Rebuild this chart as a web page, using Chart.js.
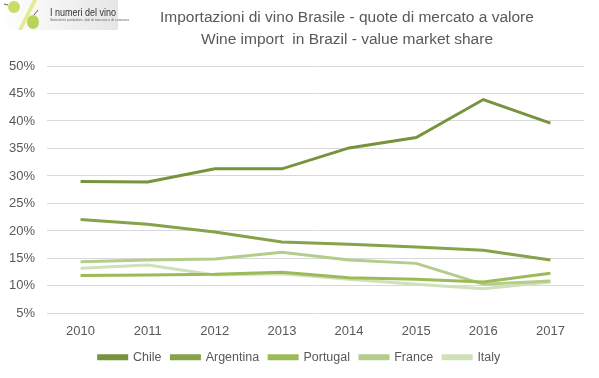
<!DOCTYPE html>
<html>
<head>
<meta charset="utf-8">
<script src="https://cdn.jsdelivr.net/npm/chart.js@4.4.1/dist/chart.umd.min.js"></script>
<style>
  html, body { margin: 0; padding: 0; background: #ffffff; }
  #wrap { width: 599px; height: 378px; position: relative; }
</style>
</head>
<body>
<div id="wrap"><canvas id="c" width="599" height="378"></canvas></div>
<script>
const years = ['2010', '2011', '2012', '2013', '2014', '2015', '2016', '2017'];
const chile = [29.0, 28.9, 31.3, 31.3, 35.1, 37.0, 43.9, 39.6];
const argentina = [22.1, 21.2, 19.8, 18.0, 17.6, 17.1, 16.5, 14.7];
const portugal = [11.9, 12.0, 12.1, 12.5, 11.5, 11.2, 10.7, 12.3];
const france = [14.4, 14.7, 14.9, 16.1, 14.7, 14.1, 10.3, 10.9];
const italy = [13.2, 13.8, 12.0, 12.2, 11.2, 10.3, 9.5, 10.7];
const seriesNames = ['Chile', 'Argentina', 'Portugal', 'France', 'Italy'];
const titleLine1 = 'Importazioni di vino Brasile - quote di mercato a valore';
const titleLine2 = 'Wine import  in Brazil - value market share';
const logoTitle = 'I numeri del vino';
const logoSub = 'Statistiche produttive, dati di mercato e di consumo';

const colors = ['#77933c', '#86a24a', '#9bbb59', '#b4cc8c', '#d0e0b9'];
const seriesData = [chile, argentina, portugal, france, italy];

const headerPlugin = {
  id: 'header',
  beforeInit(chart) {
    const lg = chart.legend;
    if (lg) {
      const orig = lg.fit;
      lg.fit = function () { orig.call(this); this.height = 30; };
    }
  },
  afterLayout(chart) {
    const lg = chart.legend;
    if (lg) {
      lg.left = 0;
      lg.right = chart.width;
      lg.width = chart.width;
    }
  },
  afterDraw(chart) {
    const ctx = chart.ctx;
    ctx.save();
    // logo background
    const g = ctx.createLinearGradient(0, 0, 118, 0);
    g.addColorStop(0, '#ffffff');
    g.addColorStop(1, '#e6e6e6');
    ctx.fillStyle = g;
    ctx.fillRect(0, 0, 118, 30);
    // grapes
    ctx.fillStyle = '#c8dc6a';
    ctx.beginPath(); ctx.arc(14, 7, 6, 0, Math.PI * 2); ctx.fill();
    ctx.fillStyle = '#e3ec8a';
    ctx.beginPath();
    ctx.moveTo(33, 0); ctx.lineTo(37, 0); ctx.lineTo(22, 30); ctx.lineTo(18, 30);
    ctx.closePath(); ctx.fill();
    ctx.fillStyle = '#b9d25a';
    ctx.beginPath(); ctx.ellipse(33, 22, 6, 7, 0, 0, Math.PI * 2); ctx.fill();
    ctx.strokeStyle = '#7a5a2a'; ctx.lineWidth = 1;
    ctx.beginPath(); ctx.moveTo(34, 15); ctx.lineTo(38, 10); ctx.stroke();
    ctx.beginPath(); ctx.moveTo(8, 5); ctx.lineTo(4, 4); ctx.stroke();
    // logo text
    ctx.fillStyle = '#333333';
    ctx.font = '11px "Liberation Sans", Arial, sans-serif';
    ctx.textBaseline = 'middle';
    ctx.textAlign = 'left';
    const tw = ctx.measureText(logoTitle).width;
    ctx.save();
    ctx.translate(50, 13);
    ctx.scale(66 / tw, 1);
    ctx.fillText(logoTitle, 0, 0);
    ctx.restore();
    ctx.font = '3.5px "Liberation Sans", Arial, sans-serif';
    ctx.fillStyle = '#666666';
    ctx.fillText(logoSub, 50, 20);
    // title
    ctx.fillStyle = '#595959';
    ctx.font = '15.5px "Liberation Sans", Arial, sans-serif';
    ctx.textAlign = 'left';
    ctx.fillText(titleLine1, 160, 18);
    ctx.fillText(titleLine2, 201, 40);
    ctx.restore();
  }
};

new Chart(document.getElementById('c'), {
  type: 'line',
  data: {
    labels: years,
    datasets: seriesNames.map((n, i) => ({
      label: n,
      data: seriesData[i],
      borderColor: colors[i],
      backgroundColor: colors[i],
      borderWidth: 3,
      pointRadius: 0,
      tension: 0,
      fill: false
    }))
  },
  options: {
    responsive: false,
    devicePixelRatio: 1,
    animation: false,
    layout: { padding: { top: 66, right: 15, left: 0, bottom: 7 } },
    plugins: {
      tooltip: { enabled: false },
      title: { display: false },
      legend: {
        position: 'bottom',
        labels: {
          boxWidth: 28,
          boxHeight: 3,
          padding: 10,
          color: '#595959',
          font: { family: '"Liberation Sans", Arial, sans-serif', size: 12.5 }
        }
      }
    },
    scales: {
      x: {
        offset: true,
        grid: { display: false },
        border: { display: false },
        ticks: {
          color: '#595959',
          padding: 2,
          font: { family: '"Liberation Sans", Arial, sans-serif', size: 13 }
        }
      },
      y: {
        min: 5,
        max: 50,
        afterFit(scale) { scale.width = 47; },
        grid: { color: '#d9d9d9', lineWidth: 1, drawTicks: false },
        border: { display: false },
        ticks: {
          stepSize: 5,
          padding: 12,
          color: '#595959',
          font: { family: '"Liberation Sans", Arial, sans-serif', size: 13 },
          callback: v => v + '%'
        }
      }
    }
  },
  plugins: [headerPlugin]
});
</script>
</body>
</html>
